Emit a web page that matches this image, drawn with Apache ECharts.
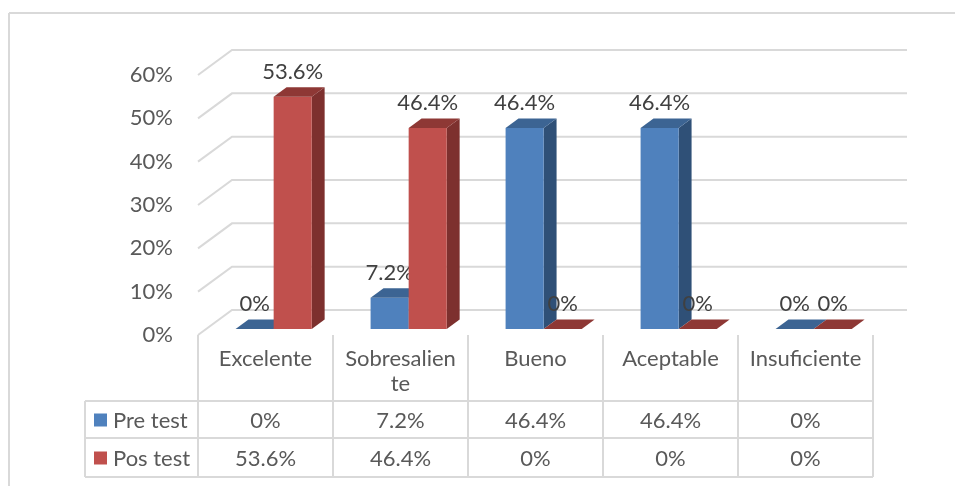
<!DOCTYPE html>
<html><head><meta charset="utf-8">
<script src="https://cdn.jsdelivr.net/npm/echarts@6/dist/echarts.min.js"></script>
<style>html,body{margin:0;padding:0;background:#fff}#c{width:955px;height:486px}</style>
</head><body><div id="c"></div>
<script>
// ---- data ----
const categories = ['Excelente', 'Sobresaliente', 'Bueno', 'Aceptable', 'Insuficiente'];
const preTest = [0, 7.2, 46.4, 46.4, 0];
const posTest = [53.6, 46.4, 0, 0, 0];
const seriesNames = ['Pre test', 'Pos test'];
const yTicks = [0, 10, 20, 30, 40, 50, 60];

// ---- style / geometry ----
const FONT = 'Lato';
const FS = 22;
const DX = 34, DY = -25;          // full depth of floor (oblique)
const BAR_F = 0.24, BAR_D = 0.38; // bar plane depth and bar depth (fractions)
const BAR_W = 0.282;              // bar width as fraction of category
const GRID_L = 198, GRID_R = 873, GRID_T = 75, GRID_B = 335;
const LINE = '#D9D9D9';
const palette = [
  { front: '#4F81BD', top: '#3C6493', side: '#2F5077' },
  { front: '#C0504D', top: '#8E3835', side: '#7D302E' }
];
const seriesValues = [preTest, posTest];

const chart = echarts.init(document.getElementById('c'), null, { renderer: 'canvas' });

function gridRender(params, api) {
  const v = api.value(1);
  const y = api.coord([0, v])[1];
  const cs = params.coordSys;
  return {
    type: 'polyline', silent: true,
    shape: { points: [[cs.x, y], [cs.x + DX, y + DY], [cs.x + cs.width + DX, y + DY]] },
    style: { stroke: LINE, lineWidth: 2, fill: null }
  };
}

function makeBarRender(si) {
  return function (params, api) {
    const idx = api.value(0), val = api.value(1);
    const catW = api.size([1, 0])[0];
    const p0 = api.coord([idx, 0]);
    const pv = api.coord([idx, val]);
    const sx = BAR_F * DX, sy = BAR_F * DY;
    const bw = catW * BAR_W;
    const cx = p0[0] + sx;
    const x0 = si === 0 ? cx - bw : cx;
    const x1 = x0 + bw;
    const yTop = pv[1] + sy, yBot = p0[1] + sy;
    const ddx = BAR_D * DX, ddy = BAR_D * DY;
    const c = palette[si];
    const children = [];
    if (yBot - yTop > 0.5) {
      children.push({ type: 'polygon', shape: { points: [[x1, yTop], [x1 + ddx, yTop + ddy], [x1 + ddx, yBot + ddy], [x1, yBot]] }, style: { fill: c.side } });
      children.push({ type: 'rect', shape: { x: x0, y: yTop, width: bw, height: yBot - yTop }, style: { fill: c.front } });
    }
    children.push({ type: 'polygon', shape: { points: [[x0, yTop], [x1, yTop], [x1 + ddx, yTop + ddy], [x0 + ddx, yTop + ddy]] }, style: { fill: c.top } });
    children.push({ type: 'text', x: (x0 + x1) / 2, y: yTop - 25, style: { text: String(val) + '%', fill: '#404040', font: FS + 'px ' + FONT, align: 'center', verticalAlign: 'middle' }, z2: 10 });
    return { type: 'group', children: children };
  };
}

// ---- table graphic ----
const graphics = [];
const colW = (GRID_R - GRID_L) / categories.length;
const TBL_L = 85, ROW1 = 401, ROW2 = 438, ROW3 = 477;
function hline(x1, x2, y) { graphics.push({ type: 'line', shape: { x1: x1, y1: y, x2: x2, y2: y }, style: { stroke: LINE, lineWidth: 2 }, silent: true }); }
function vline(x, y1, y2) { graphics.push({ type: 'line', shape: { x1: x, y1: y1, x2: x, y2: y2 }, style: { stroke: LINE, lineWidth: 2 }, silent: true }); }
// outer chart border
hline(9, 955, 13); vline(9, 13, 486);
hline(TBL_L, GRID_R, ROW1); hline(TBL_L, GRID_R, ROW2); hline(TBL_L, GRID_R, ROW3);
vline(TBL_L, ROW1, ROW3);
for (let i = 0; i <= categories.length; i++) vline(GRID_L + i * colW, GRID_B, ROW3);
const rowY = [(ROW1 + ROW2) / 2 + 1, (ROW2 + ROW3) / 2 + 1];
seriesNames.forEach(function (name, r) {
  graphics.push({ type: 'rect', shape: { x: 94, y: rowY[r] - 7, width: 13, height: 13 }, style: { fill: palette[r].front } });
  graphics.push({ type: 'text', x: 113, y: rowY[r], style: { text: name, fill: '#595959', font: FS + 'px ' + FONT, align: 'left', verticalAlign: 'middle' } });
  seriesValues[r].forEach(function (v, i) {
    graphics.push({ type: 'text', x: GRID_L + (i + 0.5) * colW, y: rowY[r], style: { text: String(v) + '%', fill: '#595959', font: FS + 'px ' + FONT, align: 'center', verticalAlign: 'middle' } });
  });
});

chart.setOption({
  animation: false,
  backgroundColor: '#fff',
  grid: { left: GRID_L, right: 955 - GRID_R, top: GRID_T, bottom: 486 - GRID_B },
  xAxis: {
    type: 'category', data: categories,
    axisLine: { show: false }, axisTick: { show: false }, splitLine: { show: false },
    axisLabel: { interval: 0, margin: 11, fontSize: FS, fontFamily: FONT, color: '#595959', width: 115, overflow: 'breakAll', lineHeight: 25 }
  },
  yAxis: {
    type: 'value', min: 0, max: 60, interval: 10,
    axisLine: { show: false }, axisTick: { show: false }, splitLine: { show: false },
    axisLabel: { formatter: '{value}%', margin: 25, fontSize: FS, fontFamily: FONT, color: '#595959', padding: [7, 0, 0, 0] }
  },
  series: [
    { type: 'custom', name: 'grid', renderItem: gridRender, data: yTicks.map(function (v) { return [0, v]; }), encode: { x: 0, y: 1 }, z: 1, silent: true },
    { type: 'custom', name: seriesNames[0], renderItem: makeBarRender(0), data: preTest.map(function (v, i) { return [i, v]; }), encode: { x: 0, y: 1 }, z: 2 },
    { type: 'custom', name: seriesNames[1], renderItem: makeBarRender(1), data: posTest.map(function (v, i) { return [i, v]; }), encode: { x: 0, y: 1 }, z: 3 }
  ],
  graphic: graphics
});
</script></body></html>
